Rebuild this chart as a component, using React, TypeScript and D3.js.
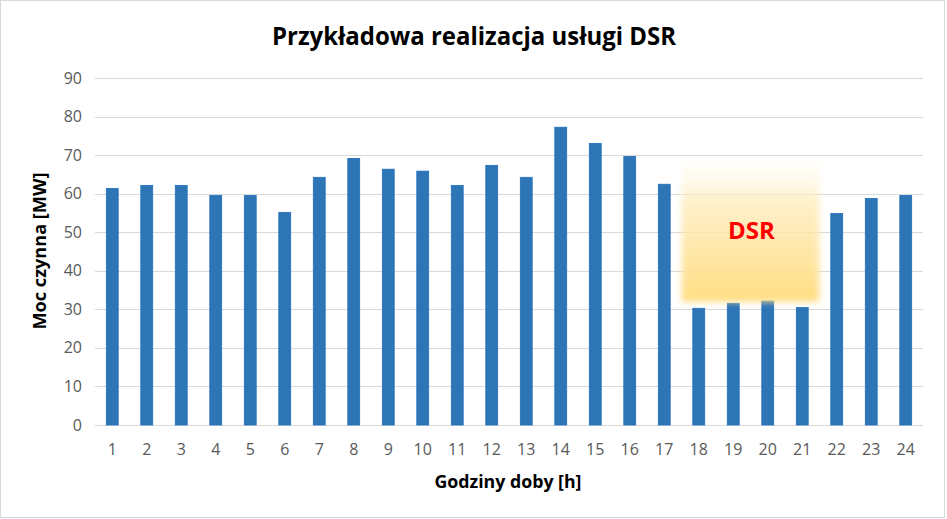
import React from "react";
import * as d3 from "d3";

const hours = ["1","2","3","4","5","6","7","8","9","10","11","12","13","14","15","16","17","18","19","20","21","22","23","24"];
const power = [61.4, 62.2, 62.2, 59.6, 59.6, 55.2, 64.3, 69.2, 66.4, 65.9, 62.2, 67.4, 64.3, 77.3, 73.1, 69.7, 62.5, 30.3, 31.6, 32.2, 30.5, 54.9, 58.8, 59.6];
const yTicks = [0, 10, 20, 30, 40, 50, 60, 70, 80, 90];
const dsrHours = ["18", "21"];
const dsrRange = [32, 69];

const W = 947, H = 519;
const left = 95, right = 923, top = 78.3, bottom = 425;

export default function App() {
  const x = d3.scaleBand().domain(hours).range([left, right]).paddingInner(0.655).paddingOuter(0.3275);
  const y = d3.scaleLinear().domain([0, 90]).range([bottom, top]);
  const step = x.step();
  const bx0 = (x(dsrHours[0]) as number) - step * 0.32;
  const bx1 = (x(dsrHours[1]) as number) + x.bandwidth() + step * 0.32;
  const by0 = y(dsrRange[1]);
  const by1 = y(dsrRange[0]);
  const font = "'Open Sans', 'Liberation Sans', sans-serif";
  return (
    <svg width={W} height={H} style={{ position: "absolute", left: 0, top: 0, fontFamily: font }}>
      <defs>
        <linearGradient id="dsrGrad" x1="0" y1="0" x2="0" y2="1">
          <stop offset="0" stopColor="#FFF6E0" stopOpacity={0.1} />
          <stop offset="0.3" stopColor="#FFEBB8" stopOpacity={0.75} />
          <stop offset="1" stopColor="#FFDD80" stopOpacity={1} />
        </linearGradient>
        <filter id="blur" x="-10%" y="-10%" width="120%" height="120%">
          <feGaussianBlur stdDeviation="3" />
        </filter>
      </defs>
      <rect x={0.5} y={0.5} width={944} height={517} fill="#fff" stroke="#D9D9D9" strokeWidth={1} />
      <text x={474} y={45} textAnchor="middle" fontSize={25} fontWeight="bold" fill="#000" textLength={404} lengthAdjust="spacingAndGlyphs">
        Przykładowa realizacja usługi DSR
      </text>
      {yTicks.map((t) => (
        <g key={t}>
          <line x1={left} x2={right} y1={Math.round(y(t)) + 0.5} y2={Math.round(y(t)) + 0.5} stroke="#D9D9D9" strokeWidth={1} />
          <text x={82} y={y(t) + 5.5} textAnchor="end" fontSize={16} fill="#595959">{t}</text>
        </g>
      ))}
      {hours.map((h, i) => (
        <rect key={h} x={x(h)} y={y(power[i])} width={x.bandwidth()} height={bottom - y(power[i])}
          fill="#2E75B6" stroke="#1F6FBF" strokeWidth={0.8} />
      ))}
      {hours.map((h) => (
        <text key={"l" + h} x={(x(h) as number) + x.bandwidth() / 2} y={455} textAnchor="middle" fontSize={16} fill="#595959">{h}</text>
      ))}
      <rect x={bx0} y={by0} width={bx1 - bx0} height={by1 - by0} fill="url(#dsrGrad)" filter="url(#blur)" />
      <text x={751.5} y={239} textAnchor="middle" fontSize={24} fontWeight="bold" fill="#FF0000" textLength={47} lengthAdjust="spacingAndGlyphs">DSR</text>
      <text x={508} y={488} textAnchor="middle" fontSize={17.5} fontWeight="bold" fill="#000" textLength={147} lengthAdjust="spacingAndGlyphs">Godziny doby [h]</text>
      <text transform={`translate(46, 251) rotate(-90)`} textAnchor="middle" fontSize={17.5} fontWeight="bold" fill="#000" textLength={157} lengthAdjust="spacingAndGlyphs">Moc czynna [MW]</text>
    </svg>
  );
}
